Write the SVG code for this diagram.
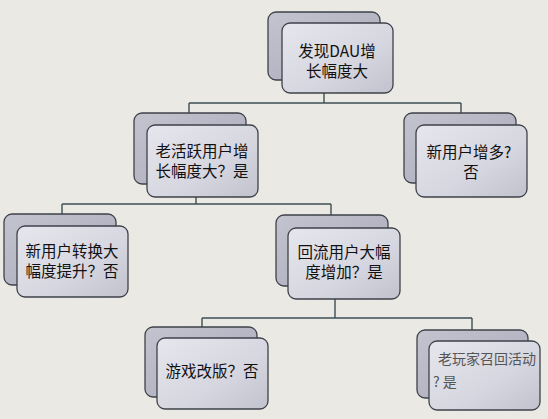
<svg xmlns="http://www.w3.org/2000/svg" width="548" height="419" viewBox="0 0 548 419">
<defs>
<linearGradient id="gb" x1="0" y1="0" x2="1" y2="1">
<stop offset="0" stop-color="#c4c4d0"/>
<stop offset="1" stop-color="#a8a8b8"/>
</linearGradient>
<linearGradient id="gf" x1="0" y1="0" x2="1" y2="1">
<stop offset="0" stop-color="#e6e6ee"/>
<stop offset="0.6" stop-color="#d6d6e0"/>
<stop offset="1" stop-color="#c2c2ce"/>
</linearGradient>
<style>
.b{fill:url(#gb);stroke:#3e4249;stroke-width:1.3}
.f{fill:url(#gf);stroke:#3e4249;stroke-width:1.3}
.t{font-family:"Noto Sans CJK SC","Liberation Sans",sans-serif;font-size:15.5px;fill:#111;text-anchor:middle}
.g{font-family:"Noto Sans CJK SC","Liberation Sans",sans-serif;font-size:14px;fill:#555}
.c{fill:none;stroke:#3d4f55;stroke-width:1.4}
</style>
</defs>
<rect width="548" height="419" fill="#ebe9e3"/>
<g id="connectors">
<path class="c" d="M324 93V103M189 103H461M189 103V113M461 103V113"/>
<path class="c" d="M196 197V204M62 204H331M62 204V214M331 204V215"/>
<path class="c" d="M335 299V318M202 318H472M202 318V327M472 318V330"/>
</g>
<g id="n1">
<rect class="b" x="268" y="12" width="112" height="68" rx="8"/>
<rect class="f" x="282" y="23" width="111" height="70" rx="8"/>
<text class="t" x="337" y="57">发现DAU增</text>
<text class="t" x="337" y="77">长幅度大</text>
</g>
<g id="n2">
<rect class="b" x="134" y="113" width="112" height="71" rx="8"/>
<rect class="f" x="147" y="125" width="111" height="72" rx="8"/>
<text class="t" x="202" y="157">老活跃用户增</text>
<text class="t" x="202" y="177">长幅度大？是</text>
</g>
<g id="n3">
<rect class="b" x="404" y="113" width="112" height="70" rx="8"/>
<rect class="f" x="416" y="125" width="111" height="72" rx="8"/>
<text class="t" x="469" y="158">新用户增多?</text>
<text class="t" x="471" y="178">否</text>
</g>
<g id="n4">
<rect class="b" x="4" y="214" width="112" height="71" rx="8"/>
<rect class="f" x="17" y="226" width="111" height="71" rx="8"/>
<text class="t" x="72" y="257">新用户转换大</text>
<text class="t" x="72" y="277">幅度提升？否</text>
</g>
<g id="n5">
<rect class="b" x="276" y="215" width="112" height="71" rx="8"/>
<rect class="f" x="288" y="228" width="112" height="71" rx="8"/>
<text class="t" x="344" y="258">回流用户大幅</text>
<text class="t" x="344" y="278">度增加？是</text>
</g>
<g id="n6">
<rect class="b" x="145" y="327" width="112" height="70" rx="8"/>
<rect class="f" x="157" y="338" width="111" height="71" rx="8"/>
<text class="t" x="212" y="377">游戏改版？否</text>
</g>
<g id="n7">
<rect class="b" x="417" y="330" width="111" height="68" rx="8"/>
<rect class="f" x="429" y="341" width="111" height="69" rx="8"/>
<text class="g" x="438" y="364">老玩家召回活动</text>
<text class="g" x="433" y="387">? 是</text>
</g>
</svg>
